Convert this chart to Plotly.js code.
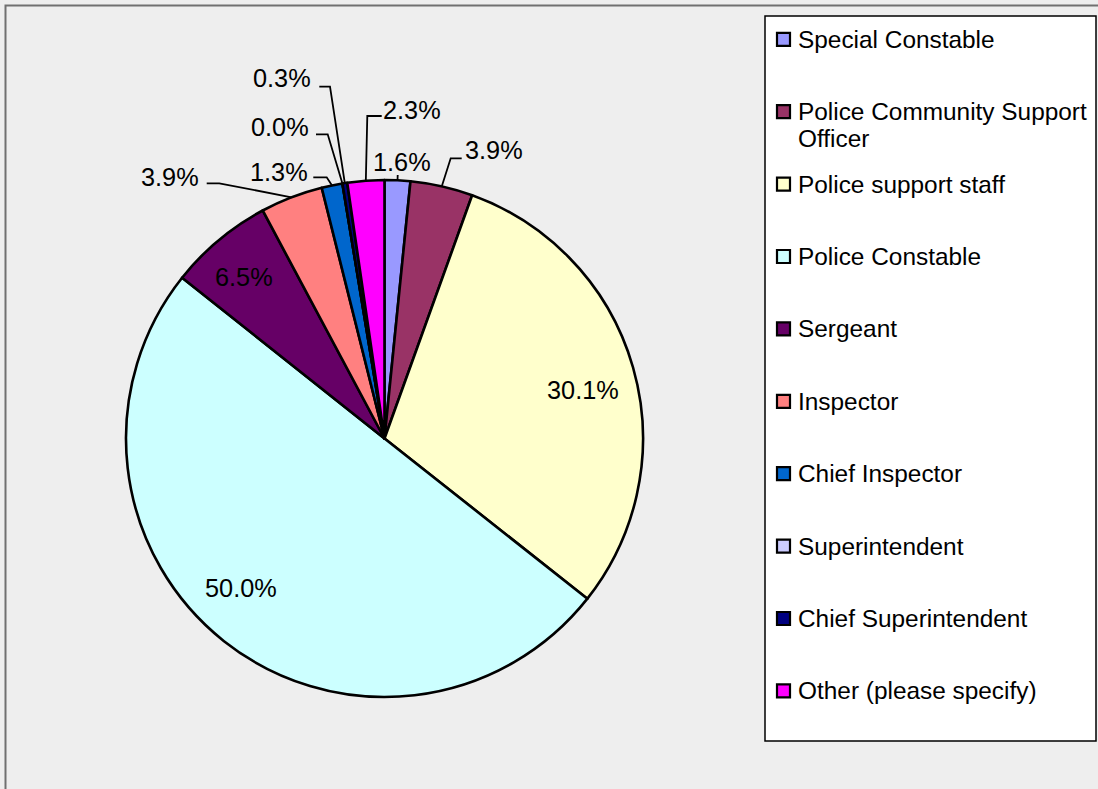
<!DOCTYPE html>
<html>
<head>
<meta charset="utf-8">
<script src="https://cdn.plot.ly/plotly-3.0.1.min.js"></script>
<style>
  html, body { margin: 0; padding: 0; background: #eeeeee; }
  #chart { width: 1098px; height: 789px; }
</style>
</head>
<body>
<div id="chart"></div>
<script>
// ---- data ----
const categories = [
  'Special Constable',
  'Police Community Support Officer',
  'Police support staff',
  'Police Constable',
  'Sergeant',
  'Inspector',
  'Chief Inspector',
  'Superintendent',
  'Chief Superintendent',
  'Other (please specify)'
];
const values = [1.6, 3.9, 30.1, 50.0, 6.5, 3.9, 1.3, 0.0, 0.3, 2.3];
const colors = ['#9999FF', '#993366', '#FFFFCC', '#CCFFFF', '#660066',
                '#FF8080', '#0066CC', '#CCCCFF', '#000080', '#FF00FF'];

// ---- layout geometry (pixels) ----
const W = 1098, H = 789;
const CX = 384.5, CY = 438.5, R = 258.5;
const FONT = 'Liberation Sans, Arial, Helvetica, sans-serif';
const px = x => x / W;
const py = y => 1 - y / H;

// inside labels: radial fraction + small nudges
const insideIdx = [2, 3, 4];
const insideR = 0.8;
const insideNudge = { 2: [0, 8], 3: [-15, -13], 4: [-8, -3] };

// outside labels: text centre, and leader path points (elbow then end)
const outsideLayout = {
  0: { t: [402, 162], pts: [[397.7, 175]] },
  1: { t: [494, 150], pts: [[450.7, 158.3], [461.7, 158.3]] },
  5: { t: [169.5, 176.5], pts: [[219.3, 183.3], [206.7, 183.3]] },
  6: { t: [278.5, 171.5], pts: [[326.7, 177.3], [313.3, 177.3]] },
  7: { t: [280, 127], pts: [[327.7, 134.3], [316, 134.3]] },
  8: { t: [282, 78], pts: [[330, 86.7], [319.3, 86.7]] },
  9: { t: [412, 110], pts: [[367.3, 116], [381.7, 116]] }
};

// legend geometry
const LEG = { x0: 765, y0: 16, x1: 1096, y1: 741, mx: 777, msize: 13, tx: 796, y: 39.3, step: 72.4, wrap: 24, lineGap: 27 };

const total = values.reduce((a, b) => a + b, 0);
const labelText = values.map(v => v.toFixed(1) + '%');

const annotations = [];
const shapes = [];

// outer border
shapes.push({ type: 'rect', xref: 'paper', yref: 'paper',
  x0: px(5.5), y0: py(H + 20), x1: px(W + 20), y1: py(5.5),
  line: { color: '#707070', width: 2 }, fillcolor: 'rgba(0,0,0,0)', layer: 'below' });

let cum = 0;
values.forEach((v, i) => {
  const mid = 2 * Math.PI * (cum + v / 2) / total;
  cum += v;
  const sx = Math.sin(mid), cy = Math.cos(mid);
  if (insideIdx.includes(i)) {
    const n = insideNudge[i] || [0, 0];
    const x = CX + insideR * R * sx + n[0];
    const y = CY - insideR * R * cy + n[1];
    annotations.push({ xref: 'paper', yref: 'paper', x: px(x), y: py(y),
      text: labelText[i], showarrow: false, xanchor: 'center', yanchor: 'middle',
      font: { family: FONT, size: 25.3, color: '#000' } });
  } else if (outsideLayout[i]) {
    const o = outsideLayout[i];
    const ex = CX + R * sx, ey = CY - R * cy;
    let path = 'M ' + px(ex) + ',' + py(ey);
    o.pts.forEach(p => { path += ' L ' + px(p[0]) + ',' + py(p[1]); });
    shapes.push({ type: 'path', xref: 'paper', yref: 'paper', path: path,
      line: { color: '#000', width: 1.8 } });
    annotations.push({ xref: 'paper', yref: 'paper', x: px(o.t[0]), y: py(o.t[1]),
      text: labelText[i], showarrow: false, xanchor: 'center', yanchor: 'middle',
      font: { family: FONT, size: 25.3, color: '#000' } });
  }
});

// custom legend
shapes.push({ type: 'rect', xref: 'paper', yref: 'paper',
  x0: px(LEG.x0), y0: py(LEG.y1), x1: px(LEG.x1), y1: py(LEG.y0),
  fillcolor: '#ffffff', line: { color: '#000', width: 1.5 }, layer: 'below' });

function wrap(s, n) {
  const words = s.split(' ');
  const lines = [];
  let cur = '';
  words.forEach(w => {
    if (cur && (cur + ' ' + w).length > n) { lines.push(cur); cur = w; }
    else cur = cur ? cur + ' ' + w : w;
  });
  if (cur) lines.push(cur);
  return lines;
}

categories.forEach((c, i) => {
  const yc = LEG.y + i * LEG.step;
  shapes.push({ type: 'rect', xref: 'paper', yref: 'paper',
    x0: px(LEG.mx), x1: px(LEG.mx + LEG.msize),
    y0: py(yc + LEG.msize / 2), y1: py(yc - LEG.msize / 2),
    fillcolor: colors[i], line: { color: '#000', width: 2.2 } });
  wrap(c, LEG.wrap).forEach((ln, k) => {
    annotations.push({ xref: 'paper', yref: 'paper', x: px(LEG.tx), y: py(yc + k * LEG.lineGap),
      text: ln, showarrow: false, xanchor: 'left', yanchor: 'middle',
      font: { family: FONT, size: 24.4, color: '#000' } });
  });
});

const trace = {
  type: 'pie',
  labels: categories,
  values: values,
  sort: false,
  direction: 'clockwise',
  rotation: 0,
  textinfo: 'none',
  hoverinfo: 'label+percent',
  showlegend: false,
  marker: { colors: colors, line: { color: '#000000', width: 2.6 } },
  domain: { x: [px(CX - R), px(CX + R)], y: [py(CY + R), py(CY - R)] }
};

const layout = {
  width: W, height: H,
  margin: { l: 0, r: 0, t: 0, b: 0, pad: 0 },
  paper_bgcolor: '#eeeeee',
  plot_bgcolor: '#eeeeee',
  showlegend: false,
  font: { family: FONT },
  shapes: shapes,
  annotations: annotations
};

Plotly.newPlot('chart', [trace], layout, { displayModeBar: false, staticPlot: true });
</script>
</body>
</html>
